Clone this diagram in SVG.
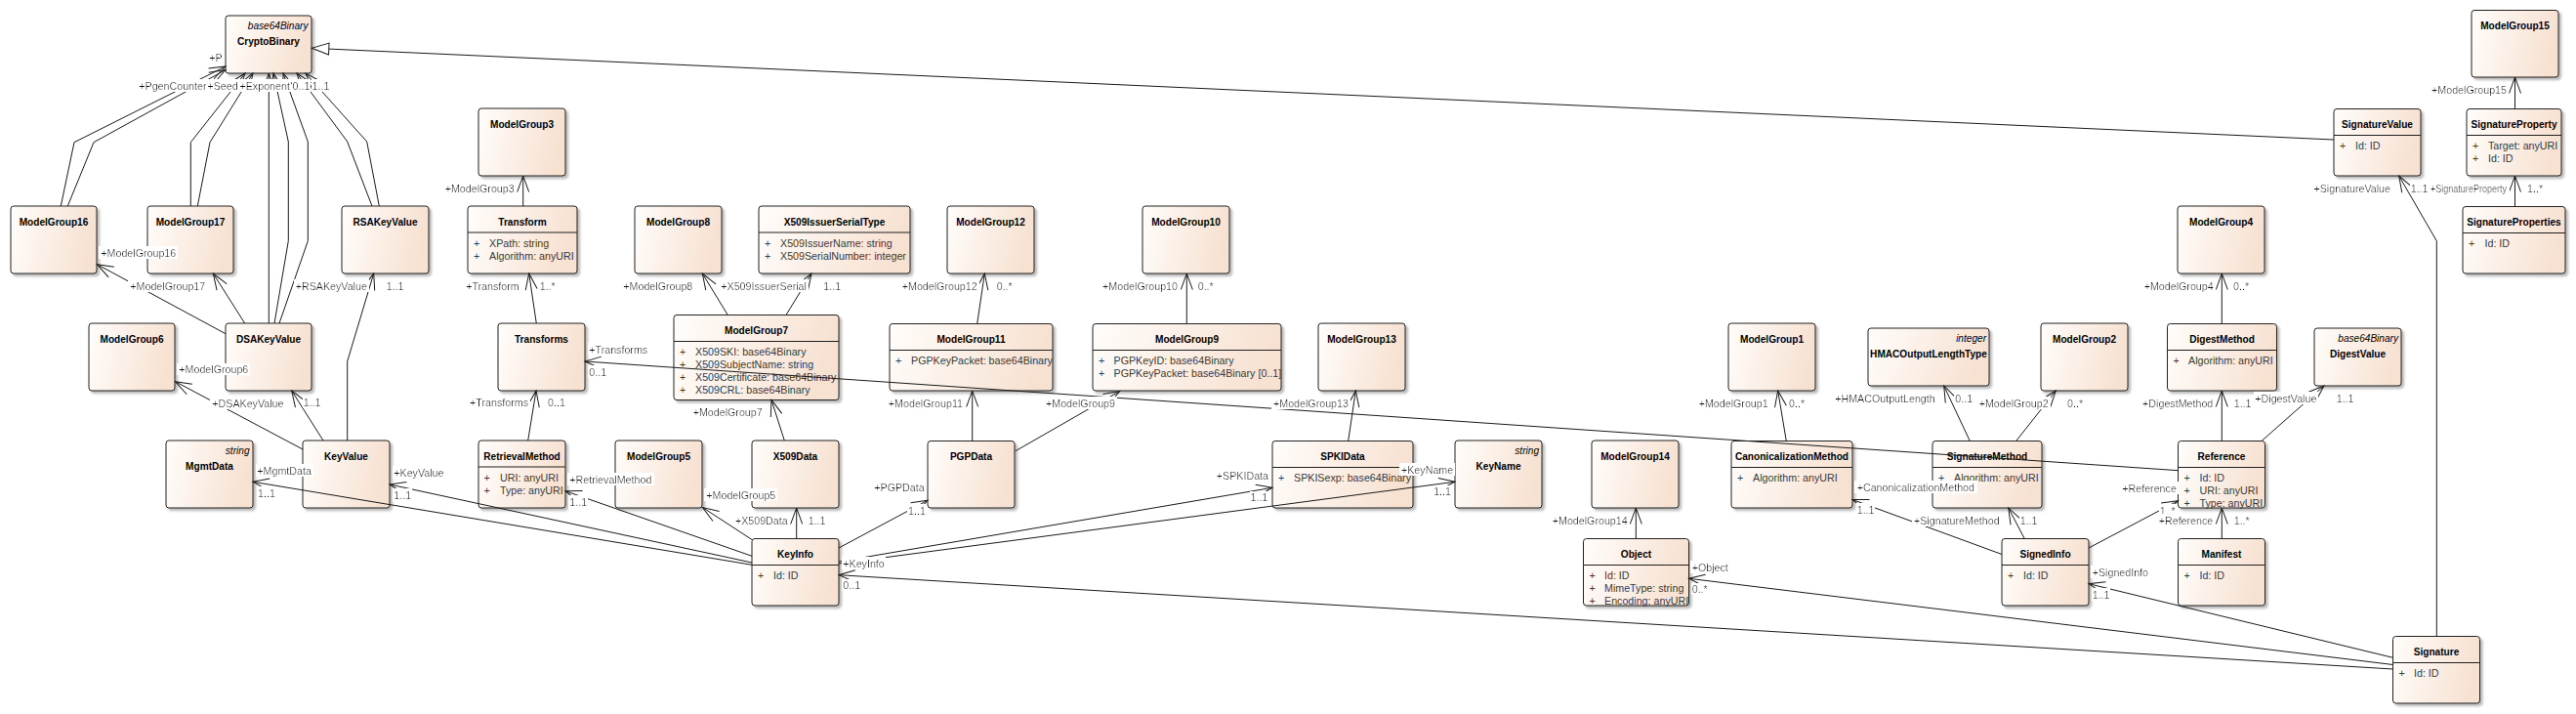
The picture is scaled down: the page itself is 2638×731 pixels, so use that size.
<svg xmlns="http://www.w3.org/2000/svg" width="2638" height="731" viewBox="0 0 2638 731">
<defs>
<linearGradient id="g" x1="0" y1="0" x2="1" y2="0.15">
<stop offset="0" stop-color="#fffdfb"/>
<stop offset="1" stop-color="#f7e1d1"/>
</linearGradient>
<filter id="sh" x="-5%" y="-5%" width="115%" height="120%">
<feDropShadow dx="2.5" dy="2.5" stdDeviation="1.2" flood-color="#000" flood-opacity="0.28"/>
</filter>
<filter id="bg" x="-0.02" y="0" width="1.04" height="1">
<feFlood flood-color="#ffffff"/>
<feComposite in="SourceGraphic" operator="over"/>
</filter>
<marker id="arr" markerUnits="userSpaceOnUse" markerWidth="18" markerHeight="14" refX="16.5" refY="6.5" orient="auto" overflow="visible">
<path d="M0,0.5 L16.5,6.5 L0,12.5" fill="none" stroke="#1a1a1a" stroke-width="1"/>
</marker>
<marker id="tri" markerUnits="userSpaceOnUse" markerWidth="19" markerHeight="13" refX="17.5" refY="6" orient="auto" overflow="visible">
<path d="M0,0 L17.5,6 L0,12 Z" fill="#ffffff" stroke="#1a1a1a" stroke-width="1"/>
</marker>
</defs>
<style>
rect.b{fill:url(#g);stroke:#202020;stroke-width:1;filter:url(#sh)}
line.s{stroke:#202020;stroke-width:1}
text{font-family:"Liberation Sans",Arial,sans-serif}
text.nm{font-weight:bold;font-size:10.1px;text-anchor:middle;fill:#000}
text.st{font-style:italic;font-size:10.1px;text-anchor:end;fill:#000}
text.at{font-size:10.7px;fill:#3a3a3a}
#connectors path{fill:none;stroke:#1a1a1a;stroke-width:1;marker-end:url(#arr)}
#connectors line{stroke:#1a1a1a;stroke-width:1;marker-end:url(#tri)}
text.lb{font-size:10.7px;fill:#111;filter:url(#bg)}
text.e{text-anchor:end}
</style>
<rect width="2638" height="731" fill="#ffffff"/>

<g id="CryptoBinary"><rect class="b" x="231" y="16" width="88" height="59" rx="3"/><text class="st" x="315.5" y="30">base64Binary</text><text class="nm" x="275" y="46">CryptoBinary</text></g>
<g id="ModelGroup16"><rect class="b" x="11" y="211" width="88" height="69" rx="3"/><text class="nm" x="55" y="230.5">ModelGroup16</text></g>
<g id="ModelGroup17"><rect class="b" x="151" y="211" width="88" height="69" rx="3"/><text class="nm" x="195" y="230.5">ModelGroup17</text></g>
<g id="RSAKeyValue"><rect class="b" x="350" y="211" width="89" height="69" rx="3"/><text class="nm" x="394.5" y="230.5">RSAKeyValue</text></g>
<g id="ModelGroup6"><rect class="b" x="91" y="331" width="88" height="69" rx="3"/><text class="nm" x="135" y="350.5">ModelGroup6</text></g>
<g id="DSAKeyValue"><rect class="b" x="231" y="331" width="88" height="69" rx="3"/><text class="nm" x="275" y="350.5">DSAKeyValue</text></g>
<g id="MgmtData"><rect class="b" x="170" y="451" width="89" height="69" rx="3"/><text class="st" x="255.5" y="465">string</text><text class="nm" x="214.5" y="481">MgmtData</text></g>
<g id="KeyValue"><rect class="b" x="310" y="451" width="89" height="69" rx="3"/><text class="nm" x="354.5" y="470.5">KeyValue</text></g>
<g id="ModelGroup3"><rect class="b" x="490" y="111" width="89" height="69" rx="3"/><text class="nm" x="534.5" y="130.5">ModelGroup3</text></g>
<g id="Transform"><rect class="b" x="479" y="211" width="112" height="69" rx="3"/><text class="nm" x="535" y="230.5">Transform</text><line class="s" x1="479" y1="238" x2="591" y2="238"/><text class="at" x="485" y="252.5">+</text><text class="at" x="501" y="252.5">XPath: string</text><text class="at" x="485" y="265.5">+</text><text class="at" x="501" y="265.5">Algorithm: anyURI</text></g>
<g id="Transforms"><rect class="b" x="510" y="331" width="89" height="69" rx="3"/><text class="nm" x="554.5" y="350.5">Transforms</text></g>
<g id="RetrievalMethod"><rect class="b" x="490" y="451" width="89" height="69" rx="3"/><text class="nm" x="534.5" y="470.5">RetrievalMethod</text><line class="s" x1="490" y1="478" x2="579" y2="478"/><text class="at" x="495.5" y="492.5">+</text><text class="at" x="512" y="492.5">URI: anyURI</text><text class="at" x="495.5" y="505.5">+</text><text class="at" x="512" y="505.5">Type: anyURI</text></g>
<g id="ModelGroup8"><rect class="b" x="650" y="211" width="89" height="69" rx="3"/><text class="nm" x="694.5" y="230.5">ModelGroup8</text></g>
<g id="X509IssuerSerialType"><rect class="b" x="777" y="211" width="155" height="69" rx="3"/><text class="nm" x="854.5" y="230.5">X509IssuerSerialType</text><line class="s" x1="777" y1="238" x2="932" y2="238"/><text class="at" x="783" y="252.5">+</text><text class="at" x="799" y="252.5">X509IssuerName: string</text><text class="at" x="783" y="265.5">+</text><text class="at" x="799" y="265.5">X509SerialNumber: integer</text></g>
<g id="ModelGroup7"><rect class="b" x="690" y="322.5" width="169" height="87" rx="3"/><text class="nm" x="774.5" y="341.5">ModelGroup7</text><line class="s" x1="690" y1="349.5" x2="859" y2="349.5"/><text class="at" x="696" y="363.5">+</text><text class="at" x="712" y="363.5">X509SKI: base64Binary</text><text class="at" x="696" y="376.5">+</text><text class="at" x="712" y="376.5">X509SubjectName: string</text><text class="at" x="696" y="389.5">+</text><text class="at" x="712" y="389.5">X509Certificate: base64Binary</text><text class="at" x="696" y="402.5">+</text><text class="at" x="712" y="402.5">X509CRL: base64Binary</text></g>
<g id="ModelGroup5"><rect class="b" x="630" y="451" width="89" height="69" rx="3"/><text class="nm" x="674.5" y="470.5">ModelGroup5</text></g>
<g id="X509Data"><rect class="b" x="770" y="451" width="89" height="69" rx="3"/><text class="nm" x="814.5" y="470.5">X509Data</text></g>
<g id="KeyInfo"><rect class="b" x="770" y="551.5" width="89" height="68.5" rx="3"/><text class="nm" x="814.5" y="571">KeyInfo</text><line class="s" x1="770" y1="578.5" x2="859" y2="578.5"/><text class="at" x="776" y="592.5">+</text><text class="at" x="792" y="592.5">Id: ID</text></g>
<g id="ModelGroup12"><rect class="b" x="970" y="211" width="89" height="69" rx="3"/><text class="nm" x="1014.5" y="230.5">ModelGroup12</text></g>
<g id="ModelGroup10"><rect class="b" x="1170" y="211" width="89" height="69" rx="3"/><text class="nm" x="1214.5" y="230.5">ModelGroup10</text></g>
<g id="ModelGroup11"><rect class="b" x="911" y="331.5" width="167" height="68.5" rx="3"/><text class="nm" x="994.5" y="350.5">ModelGroup11</text><line class="s" x1="911" y1="358.5" x2="1078" y2="358.5"/><text class="at" x="917" y="372.5">+</text><text class="at" x="933" y="372.5">PGPKeyPacket: base64Binary</text></g>
<g id="ModelGroup9"><rect class="b" x="1119" y="331.5" width="193" height="68.5" rx="3"/><text class="nm" x="1215.5" y="350.5">ModelGroup9</text><line class="s" x1="1119" y1="358.5" x2="1312" y2="358.5"/><text class="at" x="1125" y="372.5">+</text><text class="at" x="1140.5" y="372.5">PGPKeyID: base64Binary</text><text class="at" x="1125" y="385.5">+</text><text class="at" x="1140.5" y="385.5">PGPKeyPacket: base64Binary [0..1]</text></g>
<g id="PGPData"><rect class="b" x="950" y="451.5" width="89" height="68.5" rx="3"/><text class="nm" x="994.5" y="470.5">PGPData</text></g>
<g id="ModelGroup13"><rect class="b" x="1350" y="331" width="89" height="69" rx="3"/><text class="nm" x="1394.5" y="350.5">ModelGroup13</text></g>
<g id="SPKIData"><rect class="b" x="1303" y="451.5" width="144" height="68.5" rx="3"/><text class="nm" x="1375" y="470.5">SPKIData</text><line class="s" x1="1303" y1="478.5" x2="1447" y2="478.5"/><text class="at" x="1309" y="492.5">+</text><text class="at" x="1325" y="492.5">SPKISexp: base64Binary</text></g>
<g id="KeyName"><rect class="b" x="1490" y="451" width="89" height="69" rx="3"/><text class="st" x="1576" y="464.5">string</text><text class="nm" x="1534.5" y="480.5">KeyName</text></g>
<g id="ModelGroup14"><rect class="b" x="1630" y="451" width="89" height="69" rx="3"/><text class="nm" x="1674.5" y="470.5">ModelGroup14</text></g>
<g id="Object"><rect class="b" x="1621.5" y="551.5" width="108" height="68.5" rx="3"/><text class="nm" x="1675.5" y="570.5">Object</text><line class="s" x1="1621.5" y1="578.5" x2="1729.5" y2="578.5"/><text class="at" x="1627.5" y="592.5">+</text><text class="at" x="1643" y="592.5">Id: ID</text><text class="at" x="1627.5" y="605.5">+</text><text class="at" x="1643" y="605.5">MimeType: string</text><text class="at" x="1627.5" y="618.5">+</text><text class="at" x="1643" y="618.5">Encoding: anyURI</text></g>
<g id="ModelGroup1"><rect class="b" x="1770" y="331" width="89" height="69" rx="3"/><text class="nm" x="1814.5" y="350.5">ModelGroup1</text></g>
<g id="CanonicalizationMethod"><rect class="b" x="1773" y="451.5" width="124" height="68.5" rx="3"/><text class="nm" x="1835" y="470.5">CanonicalizationMethod</text><line class="s" x1="1773" y1="478.5" x2="1897" y2="478.5"/><text class="at" x="1779" y="492.5">+</text><text class="at" x="1795" y="492.5">Algorithm: anyURI</text></g>
<g id="HMACOutputLengthType"><rect class="b" x="1913" y="336" width="124" height="59" rx="3"/><text class="st" x="2034" y="349.5">integer</text><text class="nm" x="1975" y="365.5">HMACOutputLengthType</text></g>
<g id="ModelGroup2"><rect class="b" x="2090" y="331" width="89" height="69" rx="3"/><text class="nm" x="2134.5" y="350.5">ModelGroup2</text></g>
<g id="SignatureMethod"><rect class="b" x="1979" y="451.5" width="112" height="68.5" rx="3"/><text class="nm" x="2035" y="470.5">SignatureMethod</text><line class="s" x1="1979" y1="478.5" x2="2091" y2="478.5"/><text class="at" x="1985" y="492.5">+</text><text class="at" x="2001" y="492.5">Algorithm: anyURI</text></g>
<g id="SignedInfo"><rect class="b" x="2050" y="551.5" width="89" height="68.5" rx="3"/><text class="nm" x="2094.5" y="570.5">SignedInfo</text><line class="s" x1="2050" y1="578.5" x2="2139" y2="578.5"/><text class="at" x="2056" y="592.5">+</text><text class="at" x="2072" y="592.5">Id: ID</text></g>
<g id="ModelGroup4"><rect class="b" x="2230" y="211" width="89" height="69" rx="3"/><text class="nm" x="2274.5" y="230.5">ModelGroup4</text></g>
<g id="DigestMethod"><rect class="b" x="2219.5" y="331.5" width="112" height="68.5" rx="3"/><text class="nm" x="2275.5" y="350.5">DigestMethod</text><line class="s" x1="2219.5" y1="358.5" x2="2331.5" y2="358.5"/><text class="at" x="2225.5" y="372.5">+</text><text class="at" x="2241" y="372.5">Algorithm: anyURI</text></g>
<g id="DigestValue"><rect class="b" x="2370" y="336" width="89" height="59" rx="3"/><text class="st" x="2456" y="349.5">base64Binary</text><text class="nm" x="2414.5" y="365.5">DigestValue</text></g>
<g id="Reference"><rect class="b" x="2230.5" y="451.5" width="89" height="68.5" rx="3"/><text class="nm" x="2275" y="470.5">Reference</text><line class="s" x1="2230.5" y1="478.5" x2="2319.5" y2="478.5"/><text class="at" x="2236.5" y="492.5">+</text><text class="at" x="2252.5" y="492.5">Id: ID</text><text class="at" x="2236.5" y="505.5">+</text><text class="at" x="2252.5" y="505.5">URI: anyURI</text><text class="at" x="2236.5" y="518.5">+</text><text class="at" x="2252.5" y="518.5">Type: anyURI</text></g>
<g id="Manifest"><rect class="b" x="2230.5" y="551.5" width="89" height="68.5" rx="3"/><text class="nm" x="2275" y="570.5">Manifest</text><line class="s" x1="2230.5" y1="578.5" x2="2319.5" y2="578.5"/><text class="at" x="2236.5" y="592.5">+</text><text class="at" x="2252.5" y="592.5">Id: ID</text></g>
<g id="Signature"><rect class="b" x="2450.5" y="651.5" width="89" height="68.5" rx="3"/><text class="nm" x="2495" y="670.5">Signature</text><line class="s" x1="2450.5" y1="678.5" x2="2539.5" y2="678.5"/><text class="at" x="2456.5" y="692.5">+</text><text class="at" x="2472" y="692.5">Id: ID</text></g>
<g id="SignatureValue"><rect class="b" x="2390" y="111.5" width="89" height="68.5" rx="3"/><text class="nm" x="2434.5" y="130.5">SignatureValue</text><line class="s" x1="2390" y1="138.5" x2="2479" y2="138.5"/><text class="at" x="2396" y="152.5">+</text><text class="at" x="2412" y="152.5">Id: ID</text></g>
<g id="ModelGroup15"><rect class="b" x="2531" y="10.5" width="89" height="68.5" rx="3"/><text class="nm" x="2575.5" y="29.5">ModelGroup15</text></g>
<g id="SignatureProperty"><rect class="b" x="2526" y="111.5" width="97" height="68.5" rx="3"/><text class="nm" x="2574.5" y="130.5">SignatureProperty</text><line class="s" x1="2526" y1="138.5" x2="2623" y2="138.5"/><text class="at" x="2532" y="152.5">+</text><text class="at" x="2548" y="152.5">Target: anyURI</text><text class="at" x="2532" y="165.5">+</text><text class="at" x="2548" y="165.5">Id: ID</text></g>
<g id="SignatureProperties"><rect class="b" x="2522" y="211.5" width="105" height="68.5" rx="3"/><text class="nm" x="2574.5" y="230.5">SignatureProperties</text><line class="s" x1="2522" y1="238.5" x2="2627" y2="238.5"/><text class="at" x="2528" y="252.5">+</text><text class="at" x="2544.5" y="252.5">Id: ID</text></g>

<g id="connectors">
<line x1="2390" y1="143" x2="319.3" y2="49.3"/>
<path d="M2575.5,111.5 L2575.5,79"/>
<path d="M2575.5,211.5 L2575.5,180"/>
<path d="M2495.3,651.5 L2495.3,246.7 L2456.7,180"/>
<path d="M2275.3,331.5 L2275.3,280"/>
<path d="M2275.3,451.5 L2275.3,400"/>
<path d="M2316,451.5 L2380,395"/>
<path d="M2275.3,551.5 L2275.3,520"/>
<path d="M2139,561 L2230.5,512.7"/>
<path d="M2450.5,673.3 L2139,597.7"/>
<path d="M2450.5,680.5 L1729.5,592.3"/>
<path d="M2450.5,685 L859,588.7"/>
<path d="M2050,567.5 L1897,511.5"/>
<path d="M2073.2,551.5 L2056.8,520"/>
<path d="M1829.3,451.5 L1820.7,400"/>
<path d="M2017.3,451.5 L1990.7,395"/>
<path d="M2064.7,451.5 L2105.3,400"/>
<path d="M2230.5,481.7 L599,370"/>
<path d="M1380.7,451.5 L1388.3,400"/>
<path d="M1040,461.7 L1146.7,400.5"/>
<path d="M995.7,451.5 L995.7,400"/>
<path d="M1000.7,331.5 L1008.3,280"/>
<path d="M1215.3,331.5 L1215.3,280"/>
<path d="M1675.3,551.5 L1675.3,520"/>
<path d="M859,577 L1490,493.3"/>
<path d="M859,575 L1303,499.3"/>
<path d="M859,561 L950,512.3"/>
<path d="M815.7,551.5 L815.7,520"/>
<path d="M770,552.5 L719.5,519.5"/>
<path d="M770,569.3 L579,502.7"/>
<path d="M770,576 L399,496"/>
<path d="M770,578.3 L259,493.3"/>
<path d="M803.3,451 L790,409.5"/>
<path d="M745.3,322.5 L719.3,280"/>
<path d="M805,322.5 L831,280"/>
<path d="M540.7,451 L549,400"/>
<path d="M549.3,331 L541.7,280"/>
<path d="M535.7,211 L535.7,180"/>
<path d="M355.7,451 L355.7,370 L382.7,280"/>
<path d="M331,451 L298.7,400"/>
<path d="M310,460 L179.5,390.7"/>
<path d="M250.7,331 L218.3,280"/>
<path d="M231,341.7 L99.5,270.7"/>
<path d="M62.3,211 L76,145.7 L231,68"/>
<path d="M69.3,211 L96,145.7 L231,71.5"/>
<path d="M195.3,211 L195.3,145.7 L251,75"/>
<path d="M202.3,211 L215,145.7 L259,75"/>
<path d="M275.3,331 L275.3,75"/>
<path d="M281,331 L295.3,246.7 L295.3,145 L280,75"/>
<path d="M286,331 L315.3,246.7 L315.3,145 L290,75"/>
<path d="M381,211 L355.7,145 L304,75"/>
<path d="M388.3,211 L375.7,145 L313,75"/>

<text class="lb" x="214.3" y="63">+P</text>
<text class="lb e" x="211.5" y="91.5">+PgenCounter</text>
<text class="lb" x="212.5" y="91.5">+Seed</text>
<text class="lb" x="245.5" y="91.5">+Exponent</text>
<text class="lb" x="299.5" y="91.5">0..1</text>
<text class="lb" x="319.5" y="91.5">1..1</text>
<text class="lb" x="103.3" y="262.5">+ModelGroup16</text>
<text class="lb" x="133.3" y="296.5">+ModelGroup17</text>
<text class="lb" x="302.7" y="296.5">+RSAKeyValue</text>
<text class="lb" x="395.7" y="296.5">1..1</text>
<text class="lb" x="183.3" y="382">+ModelGroup6</text>
<text class="lb" x="217.3" y="416.5">+DSAKeyValue</text>
<text class="lb" x="310.7" y="416">1..1</text>
<text class="lb" x="263.3" y="485.5">+MgmtData</text>
<text class="lb" x="264" y="508.5">1..1</text>
<text class="lb" x="403.3" y="487.5">+KeyValue</text>
<text class="lb" x="403.3" y="510.5">1..1</text>
<text class="lb e" x="526.7" y="196.5">+ModelGroup3</text>
<text class="lb e" x="531.7" y="296.5">+Transform</text>
<text class="lb" x="552.7" y="296.5">1..*</text>
<text class="lb" x="603.3" y="361.5">+Transforms</text>
<text class="lb" x="603.3" y="384.5">0..1</text>
<text class="lb e" x="541" y="416">+Transforms</text>
<text class="lb" x="561" y="416">0..1</text>
<text class="lb" x="583.3" y="494.5">+RetrievalMethod</text>
<text class="lb" x="583.3" y="517.5">1..1</text>
<text class="lb e" x="709.3" y="296.5">+ModelGroup8</text>
<text class="lb" x="738.3" y="296.5">+X509IssuerSerial</text>
<text class="lb" x="843.3" y="296.5">1..1</text>
<text class="lb e" x="780.7" y="425.5">+ModelGroup7</text>
<text class="lb" x="723.3" y="510.5">+ModelGroup5</text>
<text class="lb e" x="806.7" y="536.5">+X509Data</text>
<text class="lb" x="827.7" y="536.5">1..1</text>
<text class="lb" x="863.3" y="580.5">+KeyInfo</text>
<text class="lb" x="863.3" y="603">0..1</text>
<text class="lb e" x="1000.7" y="296.5">+ModelGroup12</text>
<text class="lb" x="1020.7" y="296.5">0..*</text>
<text class="lb e" x="1206" y="296.5">+ModelGroup10</text>
<text class="lb" x="1226.7" y="296.5">0..*</text>
<text class="lb e" x="986" y="416.5">+ModelGroup11</text>
<text class="lb" x="1071" y="416.5">+ModelGroup9</text>
<text class="lb e" x="946.7" y="503">+PGPData</text>
<text class="lb" x="930" y="526.5">1..1</text>
<text class="lb" x="1304" y="416.5">+ModelGroup13</text>
<text class="lb e" x="1299" y="490.5">+SPKIData</text>
<text class="lb e" x="1298.3" y="513">1..1</text>
<text class="lb" x="1435" y="484.5">+KeyName</text>
<text class="lb e" x="1486" y="507">1..1</text>
<text class="lb e" x="1666.7" y="536.5">+ModelGroup14</text>
<text class="lb" x="1732.7" y="584.5">+Object</text>
<text class="lb" x="1732.7" y="607">0..*</text>
<text class="lb e" x="1810.7" y="416.5">+ModelGroup1</text>
<text class="lb" x="1832" y="416.5">0..*</text>
<text class="lb e" x="1981.7" y="412">+HMACOutputLength</text>
<text class="lb" x="2002.3" y="412">0..1</text>
<text class="lb" x="2026.7" y="416.5">+ModelGroup2</text>
<text class="lb" x="2117" y="416.5">0..*</text>
<text class="lb" x="1901.7" y="502.5">+CanonicalizationMethod</text>
<text class="lb" x="1901.7" y="525.5">1..1</text>
<text class="lb" x="1960" y="536.5">+SignatureMethod</text>
<text class="lb" x="2068.7" y="536.5">1..1</text>
<text class="lb" x="2142.7" y="589.5">+SignedInfo</text>
<text class="lb" x="2142.7" y="612.5">1..1</text>
<text class="lb" x="2173.3" y="503.5">+Reference</text>
<text class="lb" x="2211.7" y="526.5">1..*</text>
<text class="lb e" x="2266.7" y="296.5">+ModelGroup4</text>
<text class="lb" x="2287" y="296.5">0..*</text>
<text class="lb e" x="2266.3" y="416.5">+DigestMethod</text>
<text class="lb" x="2287.7" y="416.5">1..1</text>
<text class="lb" x="2309.3" y="411.5">+DigestValue</text>
<text class="lb" x="2392.7" y="411.5">1..1</text>
<text class="lb e" x="2266.3" y="536.5">+Reference</text>
<text class="lb" x="2287.7" y="536.5">1..*</text>
<text class="lb e" x="2567" y="95.5">+ModelGroup15</text>
<text class="lb e" x="2567" y="196.5" textLength="78" lengthAdjust="spacingAndGlyphs">+SignatureProperty</text>
<text class="lb" x="2588" y="196.5">1..*</text>
<text class="lb e" x="2448" y="196.5">+SignatureValue</text>
<text class="lb" x="2468.7" y="196.5">1..1</text>
</g>
</svg>
